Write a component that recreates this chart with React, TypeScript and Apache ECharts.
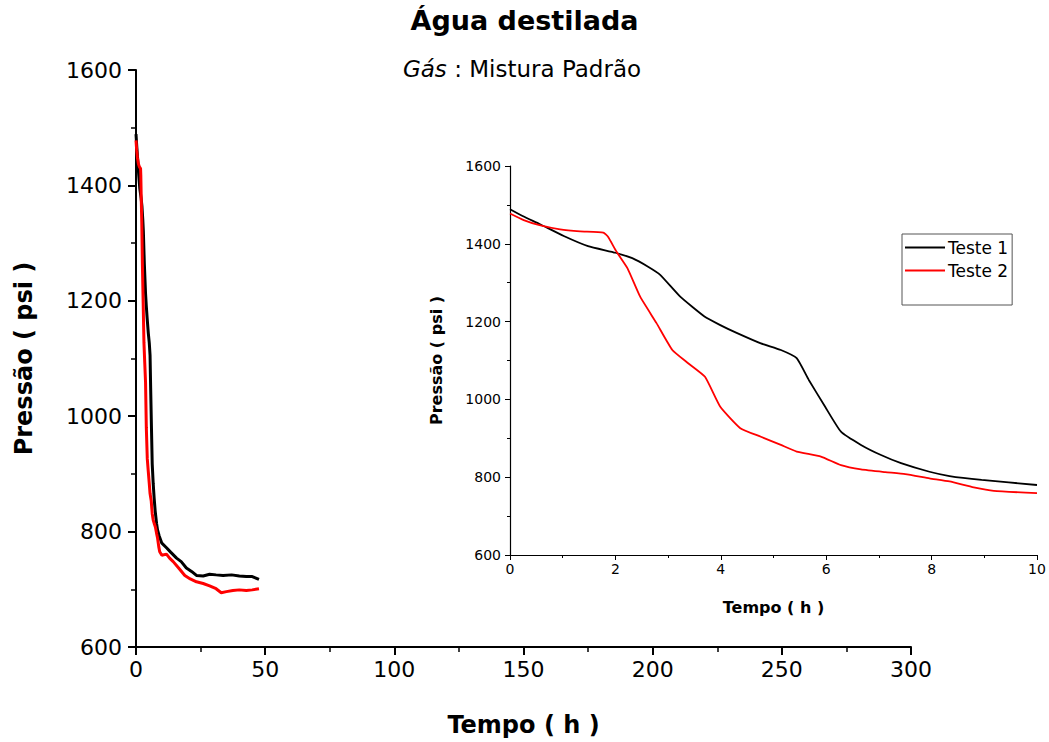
import React, { useEffect, useRef } from "react";
import * as echarts from "echarts";

// Teste 1 (black)
const t1Time = [0, 0.26, 0.56, 1.02, 1.48, 2.0, 2.32, 2.62, 2.85, 3.23, 3.69, 3.99, 4.3, 4.76, 5.14, 5.44, 5.67, 5.98, 6.28, 6.66, 7.04, 7.42, 7.96, 8.34, 8.95, 10, 11.8, 13.5, 15.7, 17.5, 19.5, 21.5, 23.4, 26, 28.5, 31, 33.7, 37, 40, 42.7, 45, 47.6];
const t1Pressure = [1489, 1470, 1451, 1420, 1394, 1377, 1363, 1341, 1320, 1264, 1213, 1191, 1171, 1144, 1127, 1106, 1050, 981, 917, 883, 857, 836, 814, 803, 793, 780, 772, 764, 754, 748, 737, 731, 724, 723, 726, 725, 724, 725, 723, 722, 722, 717];

// Teste 2 (red)
const t2Time = [0, 0.26, 0.56, 0.95, 1.33, 1.77, 1.86, 2.02, 2.23, 2.47, 2.78, 3.08, 3.38, 3.7, 3.99, 4.37, 4.76, 5.14, 5.44, 5.9, 6.28, 6.66, 7.12, 7.5, 7.96, 8.34, 8.8, 9.18, 10, 11.8, 13, 14.4, 16.5, 18.9, 21, 23.4, 26, 28.5, 31, 33, 35, 37.5, 40, 42.7, 45, 47.6];
const t2Pressure = [1478, 1461, 1448, 1437, 1432, 1429, 1418, 1380, 1337, 1264, 1196, 1127, 1093, 1058, 981, 926, 904, 883, 866, 853, 831, 820, 813, 808, 797, 789, 774, 765, 759, 761, 754, 748, 737, 724, 718, 713, 710, 706, 701, 694, 696, 698, 699, 698, 699, 701];

const mainXTicks = { min: 0, max: 300, interval: 50 };
const mainYTicks = { min: 600, max: 1600, interval: 200 };
const insetXTicks = { min: 0, max: 10, interval: 2 };

const FONT = "DejaVu Sans, Verdana, sans-serif";

function pairs(t: number[], p: number[], maxT = Infinity) {
  const out: number[][] = [];
  for (let i = 0; i < t.length; i++) if (t[i] <= maxT) out.push([t[i], p[i]]);
  return out;
}

const plain = (v: number) => String(v);

export default function App() {
  const ref = useRef<HTMLDivElement>(null);
  useEffect(() => {
    if (!ref.current) return;
    const chart = echarts.init(ref.current, undefined, { renderer: "svg" });
    const axisLine = { show: true, lineStyle: { color: "#000", width: 2 } };
    const axisLineThin = { show: true, lineStyle: { color: "#000", width: 1.2 } };
    chart.setOption({
      animation: false,
      backgroundColor: "#fff",
      graphic: [
        {
          type: "text",
          left: "center",
          top: 7,
          style: { text: "Água destilada", font: `bold 27px ${FONT}`, fill: "#000" },
        },
        {
          type: "text",
          x: 522,
          y: 57,
          style: {
            text: "{i|Gás} : Mistura Padrão",
            align: "center",
            fill: "#000",
            rich: {
              i: { fontStyle: "italic", fontSize: 23, fontFamily: FONT, fill: "#000" },
            },
            font: `23px ${FONT}`,
          },
        },
      ],
      legend: {
        data: ["Teste 1", "Teste 2"],
        orient: "vertical",
        left: 902,
        top: 234,
        padding: [5, 4, 26, 3],
        itemGap: 6,
        borderColor: "#555",
        borderWidth: 1,
        icon: "rect",
        itemWidth: 40,
        itemHeight: 2,
        textStyle: { fontFamily: FONT, fontSize: 17, color: "#000", padding: [0, 0, 0, -2] },
      },
      grid: [
        { left: 136, right: 138, top: 70, bottom: 95, containLabel: false },
        { left: 510, right: 12, top: 166, bottom: 187, containLabel: false },
      ],
      xAxis: [
        {
          gridIndex: 0,
          type: "value",
          ...mainXTicks,
          name: "Tempo ( h )",
          nameLocation: "middle",
          nameGap: 66,
          nameTextStyle: { fontFamily: FONT, fontSize: 24, fontWeight: "bold", color: "#000" },
          axisLine,
          axisTick: { show: true, length: 8, lineStyle: { color: "#000", width: 2 } },
          minorTick: { show: true, splitNumber: 2, length: 5, lineStyle: { color: "#000", width: 1.5 } },
          axisLabel: { fontFamily: FONT, fontSize: 22, color: "#000", margin: 11, formatter: plain },
          splitLine: { show: false },
        },
        {
          gridIndex: 1,
          type: "value",
          ...insetXTicks,
          name: "Tempo ( h )",
          nameLocation: "middle",
          nameGap: 44,
          nameTextStyle: { fontFamily: FONT, fontSize: 16, fontWeight: "bold", color: "#000" },
          axisLine: axisLineThin,
          axisTick: { show: true, length: 5, lineStyle: { color: "#000", width: 1 } },
          minorTick: { show: true, splitNumber: 2, length: 3, lineStyle: { color: "#000", width: 1 } },
          axisLabel: { fontFamily: FONT, fontSize: 14, color: "#000", margin: 7, formatter: plain },
          splitLine: { show: false },
        },
      ],
      yAxis: [
        {
          gridIndex: 0,
          type: "value",
          ...mainYTicks,
          name: "Pressão ( psi )",
          nameLocation: "middle",
          nameGap: 100,
          nameTextStyle: { fontFamily: FONT, fontSize: 24, fontWeight: "bold", color: "#000" },
          axisLine,
          axisTick: { show: true, length: 8, lineStyle: { color: "#000", width: 2 } },
          minorTick: { show: true, splitNumber: 2, length: 5, lineStyle: { color: "#000", width: 1.5 } },
          axisLabel: { fontFamily: FONT, fontSize: 22, color: "#000", margin: 14, formatter: plain },
          splitLine: { show: false },
        },
        {
          gridIndex: 1,
          type: "value",
          ...mainYTicks,
          name: "Pressão ( psi )",
          nameLocation: "middle",
          nameGap: 66,
          nameTextStyle: { fontFamily: FONT, fontSize: 16, fontWeight: "bold", color: "#000" },
          axisLine: axisLineThin,
          axisTick: { show: true, length: 5, lineStyle: { color: "#000", width: 1 } },
          minorTick: { show: true, splitNumber: 2, length: 3, lineStyle: { color: "#000", width: 1 } },
          axisLabel: { fontFamily: FONT, fontSize: 14, color: "#000", margin: 9, formatter: plain },
          splitLine: { show: false },
        },
      ],
      series: [
        {
          name: "Teste 1",
          type: "line",
          xAxisIndex: 0,
          yAxisIndex: 0,
          data: pairs(t1Time, t1Pressure),
          showSymbol: false,
          symbol: "none",
          lineStyle: { color: "#000", width: 3 },
          itemStyle: { color: "#000" },
        },
        {
          name: "Teste 2",
          type: "line",
          xAxisIndex: 0,
          yAxisIndex: 0,
          data: pairs(t2Time, t2Pressure),
          showSymbol: false,
          symbol: "none",
          lineStyle: { color: "#ff0000", width: 3 },
          itemStyle: { color: "#ff0000" },
        },
        {
          name: "Teste 1",
          type: "line",
          xAxisIndex: 1,
          yAxisIndex: 1,
          data: pairs(t1Time, t1Pressure, 10),
          showSymbol: false,
          symbol: "none",
          smooth: 0.15,
          lineStyle: { color: "#000", width: 1.8 },
          itemStyle: { color: "#000" },
        },
        {
          name: "Teste 2",
          type: "line",
          xAxisIndex: 1,
          yAxisIndex: 1,
          data: pairs(t2Time, t2Pressure, 10),
          showSymbol: false,
          symbol: "none",
          smooth: 0.15,
          lineStyle: { color: "#ff0000", width: 1.8 },
          itemStyle: { color: "#ff0000" },
        },
      ],
    });
    return () => chart.dispose();
  }, []);
  return (
    <div
      ref={ref}
      style={{ position: "fixed", left: 0, top: 0, width: 1049, height: 742, background: "#fff" }}
    />
  );
}
